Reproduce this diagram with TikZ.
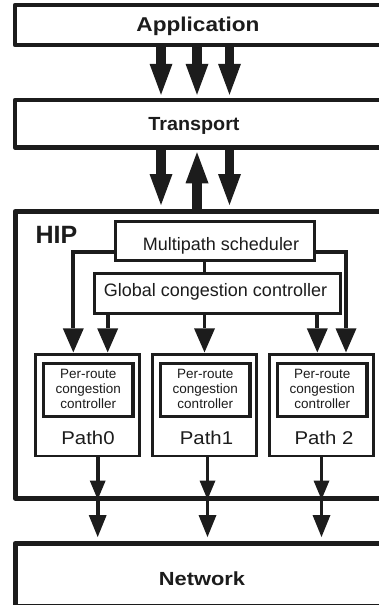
\documentclass[tikz,border=0pt]{standalone}
\usepackage{fontspec}
\setmainfont{Liberation Sans}
\usetikzlibrary{arrows.meta,calc}
\definecolor{lc}{HTML}{1C1C1C}
\newcommand{\sx}[2]{\scalebox{#1}[1]{#2}}
\begin{document}
\begin{tikzpicture}[x=1pt,y=-1pt,
  bigbox/.style={draw=lc, line width=4.5pt, inner sep=0pt, minimum width=380pt, line join=round},
  midbox/.style={draw=lc, line width=3pt, inner sep=0pt},
  pathbox/.style={draw=lc, line width=2.3pt, inner sep=0pt, minimum width=104pt, minimum height=101.5pt},
  routebox/.style={draw=lc, line width=3.3pt, inner sep=0pt, minimum width=89.5pt, minimum height=53.2pt},
  txt/.style={text=lc, inner sep=0pt, anchor=base},
  bigarrow/.style={draw=lc, line width=9.5pt, -{Triangle[width=23pt,length=31pt,line width=0pt]}},
  smarrow/.style={draw=lc, line width=3.8pt, line join=miter, -{Triangle[width=21pt,length=24pt,line width=0pt]}},
  botA/.style={draw=lc, line width=3.6pt, -{Triangle[width=16pt,length=19pt,line width=0pt]}},
  botB/.style={draw=lc, line width=3.6pt, -{Triangle[width=18pt,length=22pt,line width=0pt]}},
  conn/.style={draw=lc, line width=3pt}
]
\useasboundingbox (0,0) rectangle (379,605);
\clip (0,0) rectangle (379,605);
\fill[white] (0,0) rectangle (379,605);

% big layers
\node[bigbox, minimum height=40pt] (app) at (205,25) {};
\node[txt] (apptxt) at (198,31.5) {\fontsize{20}{24}\selectfont\bfseries\sx{1.13}{Application}};
\node[bigbox, minimum height=47.5pt] (trans) at (205,123.75) {};
\node[txt] (transtxt) at (194,130) {\fontsize{19}{23}\selectfont\bfseries\sx{1.04}{Transport}};
\node[bigbox, line width=5pt, minimum height=286.5pt] (hip) at (205,354.75) {};
\node[txt] (hiptxt) at (56.5,243) {\fontsize{25}{30}\selectfont\bfseries HIP};
\node[bigbox, line width=5pt, minimum height=62.5pt] (net) at (205,574.75) {};
\node[txt] (nettxt) at (202,585) {\fontsize{19}{23}\selectfont\bfseries\sx{1.15}{Network}};

% inner boxes
\node[midbox, minimum width=199pt, minimum height=38.3pt] (ms) at (214.5,240.85) {};
\node[txt] (mstxt) at (221,250) {\fontsize{18}{22}\selectfont Multipath scheduler};
\node[midbox, minimum width=246pt, minimum height=39.7pt] (gc) at (217.7,293.2) {};
\node[txt] (gctxt) at (215.5,296.5) {\fontsize{18}{22}\selectfont Global congestion controller};

% path boxes
\node[pathbox] (p0) at (87.5,405.25) {};
\node[pathbox] (p1) at (204.5,405.25) {};
\node[pathbox] (p2) at (321.5,405.25) {};
\node[routebox] (r0) at (88.25,390) {};
\node[routebox] (r1) at (205.25,390) {};
\node[routebox] (r2) at (322.25,390) {};
\node[txt, anchor=north, align=center, font=\fontsize{13.5}{15}\selectfont] (r0t) at (88.25,369.5) {Per-route\\congestion\\controller};
\node[txt, anchor=north, align=center, font=\fontsize{13.5}{15}\selectfont] (r1t) at (205.25,369.5) {Per-route\\congestion\\controller};
\node[txt, anchor=north, align=center, font=\fontsize{13.5}{15}\selectfont] (r2t) at (322.25,369.5) {Per-route\\congestion\\controller};
\node[txt] (l0) at (88,444.3) {\fontsize{18.5}{22}\selectfont\sx{1.1}{Path0}};
\node[txt] (l1) at (206.5,444.3) {\fontsize{18.5}{22}\selectfont\sx{1.1}{Path1}};
\node[txt] (l2) at (324,444.3) {\fontsize{18.5}{22}\selectfont\sx{1.1}{Path 2}};

% big arrows
\coordinate (a1) at (161,0);
\coordinate (a2) at (197,0);
\coordinate (a3) at (229.5,0);
\draw[bigarrow, shorten >=3pt] (app.south -| a1) -- (trans.north -| a1);
\draw[bigarrow, shorten >=3pt] (app.south -| a2) -- (trans.north -| a2);
\draw[bigarrow, shorten >=3pt] (app.south -| a3) -- (trans.north -| a3);
\draw[bigarrow, shorten >=4pt] (trans.south -| a1) -- (hip.north -| a1);
\draw[bigarrow, shorten >=2.5pt] (hip.north -| a2) -- (trans.south -| a2);
\draw[bigarrow, shorten >=4pt] (trans.south -| a3) -- (hip.north -| a3);

% scheduler / global connectors
\coordinate (t0a) at ($(p0.north)+(-14.2,0)$);
\coordinate (t0b) at ($(p0.north)+(20.2,0)$);
\coordinate (t2a) at ($(p2.north)+(-4.2,0)$);
\coordinate (t2b) at ($(p2.north)+(24.5,0)$);
\draw[conn] (ms.south -| p1.north) -- (gc.north -| p1.north);
\draw[smarrow, shorten >=1pt] ([yshift=-11pt]ms.west) -| (t0a);
\draw[smarrow, shorten >=1pt] ([yshift=-11pt]ms.east) -| (t2b);
\draw[smarrow, shorten >=1pt] (gc.south -| t0b) -- (t0b);
\draw[smarrow, shorten >=1pt] (gc.south -| p1.north) -- (p1.north);
\draw[smarrow, shorten >=1pt] (gc.south -| t2a) -- (t2a);

% bottom arrows
\coordinate (d0) at ($(p0.south)+(10.2,0)$);
\coordinate (d1) at ($(p1.south)+(3,0)$);
\coordinate (d2) at ($(p2.south)+(0,0)$);
\draw[botA, shorten >=1pt] (d0) -- (hip.south -| d0);
\draw[botA, shorten >=1pt] (d1) -- (hip.south -| d1);
\draw[botA, shorten >=1pt] (d2) -- (hip.south -| d2);
\draw[botB, shorten >=4pt] (hip.south -| d0) -- (net.north -| d0);
\draw[botB, shorten >=4pt] (hip.south -| d1) -- (net.north -| d1);
\draw[botB, shorten >=4pt] (hip.south -| d2) -- (net.north -| d2);
\end{tikzpicture}
\end{document}
